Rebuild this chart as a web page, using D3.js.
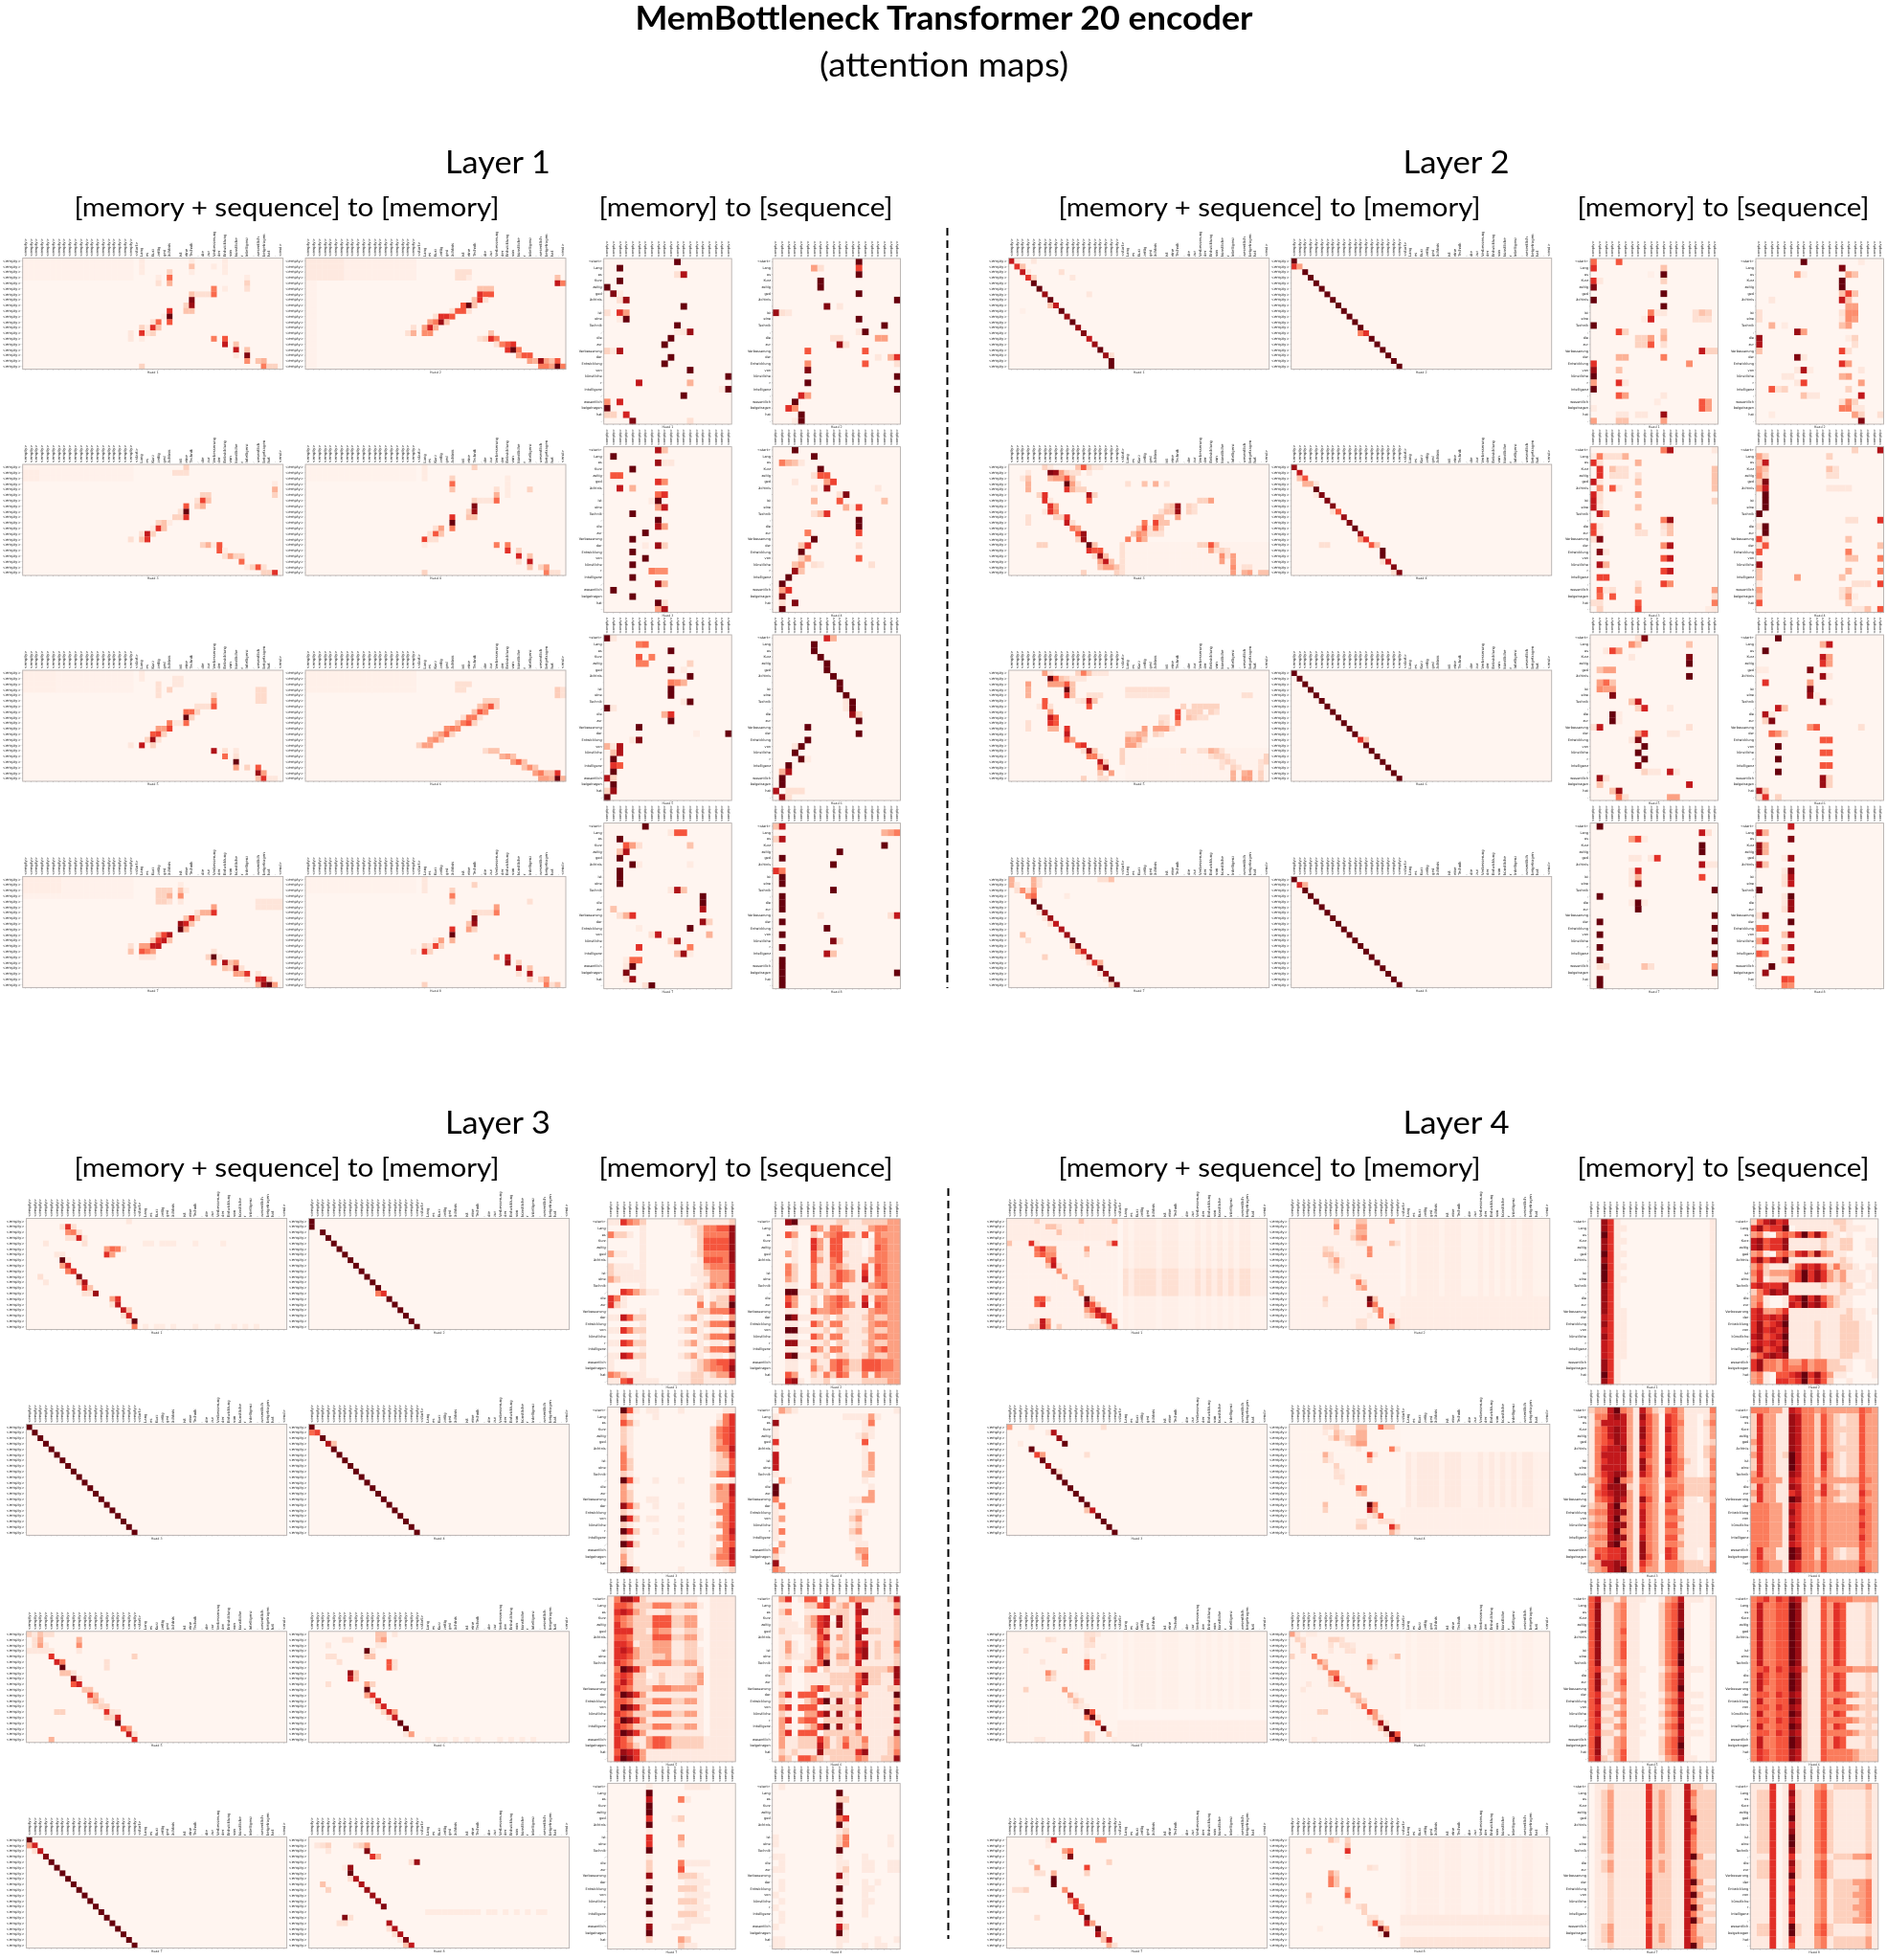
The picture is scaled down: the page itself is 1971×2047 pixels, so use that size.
<!DOCTYPE html>
<html><head><meta charset="utf-8"><script src="https://cdn.jsdelivr.net/npm/d3@7"></script>
<style>html,body{margin:0;background:#fff}svg{display:block}</style></head><body><svg id="c" width="1971" height="2047"></svg>
<script>
const seqTokens=["<start>","Lang","es","Kurz","zeitig","ged","ächtnis","","ist","eine","Technik",",","die","zur","Verbesserung","der","Entwicklung","von","künstliche","r","Intelligenz",",","wesentlich","beigetragen","hat","."];
const memTokens=d3.range(20).map(()=>"<empty>");
const wideXTokens=[...memTokens,...seqTokens,"<end>"];
// rows: "col:value" (0..9 scale); plain digit strings are full rows
const L1_R1_H1=["21:.5 30:.5 36:.5","21:.5 30:2 34:.5 36:.5","21:.5 26:1.5 30:.5 36:.5","24:.5 26:4.5 40:.5","24:1 26:2.5 40:1.5","34:4 36:.5 40:1","30:2 31:1 32:1 33:1 34:4.5","30:8.5","29:1.5 30:8","26:6 29:2 30:2","25:.5 26:9","23:1 24:4.5 26:5","21:1.5 22:.5 23:6 24:2","19:.7 21:6 22:1 23:1.5","19:.7 21:.5 34:4 36:5","36:7 38:2","38:7 40:2","40:8.5 38:.7","40:3.5 42:2 43:2.5","21:1.5 43:4 44:1.5 45:1.5"];
const L1_R1_H2=["","","27:1 28:1 29:1","27:1 28:1 45:2 29:.5","45:7 46:4","31:2 32:2 33:2","31:6 32:5 33:5","30:2 31:6 32:1","28:5 29:9 30:2","26:1 27:5 28:5 29:1","23:1 24:6 25:6 26:5","22:3 23:4 24:8 25:2","19:1 21:3 22:6.5 23:2.5","18:1 19:2.5 21:3.5 22:3.5 33:2","31:1 32:1.5 33:6 34:4","34:1 35:4 36:5 37:6","36:6 37:9 38:4","38:3 39:5 40:5","40:3 41:2.5 42:8 43:3 44:2 45:5","42:4 43:4 44:3 45:9 46:4"];
const L1_R2_H1=["29:1.5","27:1 28:1 29:1","","45:.5","45:2.5","32:1.5 33:1.5 45:1.5","31:1 32:5.5 33:2","29:5 31:1.5 32:2.5","28:1 29:9","27:1.5 28:1.5 29:6","24:1.5 25:2 26:.5","23:.5 24:6 25:2","21:1 22:7 23:1.5","19:1 21:2 22:6","32:1.5 33:2.5 34:.5 35:5","35:5 36:.5","36:1 37:3 38:1.5 39:1.5","39:4.5","40:.5 41:1.5 42:5 43:1","43:1.5 44:1.5 45:6"];
const L1_R2_H2=["21:.5 30:1.5","21:.5","21:.5 26:1.5 36:.5","26:4.5 36:.5","26:2 34:1 36:.5 40:1.5","34:2.5 36:.5","31:.8 32:.8 33:.8 34:4.5 30:1.5","30:8.5","29:1.5 30:8","26:6 29:2 30:2","26:9","23:1 24:3 26:4","22:1 23:5 24:2","21:5.5 22:1 23:1","21:.5 34:4 36:4","36:6 38:1.5","38:6.5 40:2","38:1 40:7","40:2 42:1.5 43:3","21:1.5 43:4 44:1 45:1"];
const L1_R3_H1=["21:.5","27:.7 28:.7 21:.5","24:1 27:.7 28:.7","24:1 26:1.5 42:1.2 43:1.2","24:1 34:1.5 42:1.2 43:1.2","34:3.5 42:1.2 43:1.2","31:1 32:1 33:1 34:5","29:4.5 30:4.5 31:1.5","29:9 30:1.5","27:.7 28:.7 29:4.5 26:4","24:3 25:3 26:5.5","23:5 24:5.5 25:1.5","22:1.5 23:8 24:1","19:.7 21:7 23:1.5","34:7.5 36:1 38:.7","36:4.5 38:1","38:9","38:3 40:1.5 42:5","42:8 43:3","42:2 43:6 44:.7 45:.7"];
const L1_R3_H2=["","","27:1 28:1 29:1","27:1 28:1 45:1.7 46:1","45:1.7 46:1","32:1.5 33:1.5 34:1.5","31:2 32:3 33:5 34:1.5","30:2 31:5 32:3.5","28:1 29:4 30:4 31:1","27:2 28:4 29:5 30:1.5","25:3.5 26:4 27:3.5","23:2 24:3 25:4.5 26:1.5","22:3 23:3.5 24:2","20:1.5 21:3 22:3","32:1.2 33:2 34:2","35:2.5 36:3 37:2","37:3 38:4.5 39:2","39:2 40:3.5 41:2","41:3 42:4 43:2 44:2 45:6","42:3 43:3 44:2.5 45:9 46:2.5"];
const L1_R4_H1=["","28:.5","24:1.5 25:1.5 26:1.5 28:2 29:.5","24:1.5 25:1.5 26:2.5 28:3.5","24:1.5 25:1.5 26:1 28:.7 42:.8 43:.8 44:.8 45:.8 46:.8","34:3 42:.8 43:.8 44:.8 45:.8 46:.8","31:1 32:2.5 33:2.5 34:6","29:2 30:6 31:2","28:8 29:6.5 30:2","28:9 29:2.5","24:2.5 25:5.5 26:7.5","23:2 24:6 25:7 26:2","19:1 21:3 22:3 23:7 24:7","19:2 21:5 22:4 23:3 34:1","21:.7 22:.7 23:.7 33:1.5 34:9 35:.7","34:3.5 36:7.5 37:2 38:3","36:2 37:1.5 38:8 39:1","38:3 39:3 40:6 42:1","40:1 42:6.5 43:7 44:1.5","42:2.5 43:8 44:9 45:3"];
const L1_R4_H2=["21:.7","21:.7 30:1.5","21:.7 26:1.5","26:4","26:1.5 40:1","34:3","31:1 32:1 33:1 34:4 30:1.5","30:8.5","29:2 30:8","26:6 29:3 30:1.5","26:9","23:.7 24:3 26:2.5","21:1.5 22:1 23:5.5 24:1.5","19:.7 21:6 22:1.5","34:3.5 36:7","36:8 38:1.5","38:7.5 40:2","38:1 40:7.5","40:1.5 42:1.5 43:3","21:1.5 43:4 44:1 45:2"];
const L2_R1_H1=["0:7 1:.5 4:.7","1:6 2:2","2:7 3:.7 9:1","3:6 4:1.5 11:.7","4:9","5:9","6:8 14:.7","7:9","7:2 8:7","9:9 2:.3","10:8","11:9","12:8","13:8.5","14:7","15:8","16:9","17:8 18:1","18:9","18:9"];
const L2_R1_H2=["0:9","0:6 1:3","2:9","3:9","4:9","5:9","6:9","7:9","8:9","9:9","10:9","11:9","12:9","12:4 13:6","14:9","15:9","16:9","17:9","18:9","19:9"];
const L2_R2_H1=["6:1.5 7:.7 12:2 13:5 14:1.5 15:.7 16:.7","3:.7 7:8.5 8:8 9:3 10:1.5 11:1 12:1 14:.7","2:.7 3:2 7:2.5 8:3 9:3 10:5 11:2","3:2.5 10:9 11:3 12:1 21:1 24:2 26:2.5 28:1","3:2.5 10:6 11:2.5 12:1.5 13:1.5","5:1.5 6:6 14:7.5 15:1.5","6:6 7:.7 14:5 34:1.5 35:1.5 36:3","7:6 8:3 28:1.5 29:2 30:8 32:1.5 33:1","6:.7 7:6 8:3.5 27:1 28:2 29:2 30:8 32:1.5 33:1","3:1 8:1.5 9:1.5 10:6 26:2 27:2 30:3","3:1 10:7 11:1 24:4 26:5.5 27:2 28:2","11:4 12:3 23:2 24:5 25:1 26:4 27:1.5","12:5 13:8 22:2 23:3.5 24:3 25:1 26:1 27:1","12:1.5 13:8 21:4 23:4 24:2.5","5:1.5 6:1.5 14:9 15:2 20:1 34:1.5 35:1.5 36:5 37:2","14:6 15:5 16:5 20:1 36:3 37:1 38:1.5 39:1","15:1 16:8 17:2 20:1 38:3.5 39:1 40:3","16:3 17:7 18:2 20:1 38:3 40:3","16:2 17:3 18:3 19:2 20:1 40:3.5 42:1 43:1","13:1.5 19:1.5 20:1 40:3 42:2.5 43:3 45:2 46:2"];
const L2_R2_H2=["0:8","1:7","1:2 2:5","2:2.5 3:2.5 4:.7","4:9","4:.5 5:8.5","6:8.5","7:8.5","7:1 8:5","9:8","10:8.5","11:9","12:8","12:3 13:6","5:1 6:1 14:5 15:2","16:9","16:9","16:1 17:7","18:8.5","18:1 19:8.5"];
const L2_R3_H1=["6:3 7:.7 12:1.5 13:4 14:2 15:.7 16:.7 17:.7","7:9 8:5 9:2 10:1.5 11:.7 12:.7 13:.7","3:3 7:3 8:3 9:3 10:5 11:2","3:2.5 10:9 11:2 21:1 22:1 23:1 24:1 25:1 26:1 27:1 28:1","3:2.5 10:6 11:2 14:1 15:1 16:1 21:.8 22:.8 23:.8 24:.8 25:.8 26:.8 27:.8 28:.8 42:1 43:1","6:5 12:.7 13:1 14:7 15:2","5:.7 6:5 7:1 14:5 31:1.5 33:1.5 34:1.5 35:1.5 36:1.5 37:1.5","7:3 32:1.5 33:1.5 34:1.5 36:1.5 37:1 30:5.5","7:7 8:5 27:1 28:1 30:5.5 32:2 33:1.5 34:1 35:1","3:1 7:6 8:5 27:1.5 28:1 30:3.5","3:1 7:2.5 8:2.5 10:6 24:3 26:3 27:3 28:3 29:1","10:7 21:1.5 22:1.5 23:2.5 24:2.5 26:1.5 27:1","10:5 11:3 21:3 22:2.5 23:3 24:1.5","12:5 13:6 21:3 22:3 23:1.5","13:1 14:8 15:2 20:1.5 31:1.5 34:1 35:1 36:2.5 37:2 38:1","14:4 15:4 16:1 20:1.5 36:1 37:1.5 38:1.5 39:1 46:1.5","16:7 17:1.5 20:1.5 38:1 39:1.5 40:1 45:1 46:1.5","16:4 17:8 38:1 40:1.5 41:1 45:1","16:2 18:3 40:2.5 42:2.5 43:3 45:1.5","13:1.5 16:1 17:1 40:2.5 42:3 43:3 45:1.5"];
const L2_R3_H2=["0:9","1:9","2:9","3:9","4:9","5:9","6:9","7:9","8:9","9:9","10:9","11:9","12:6 13:2","13:9","14:9","15:9","16:9","17:9","18:9","19:9"];
const L2_R4_H1=["0:2.5 4:2.5 5:1 16:1 17:1 18:2","0:2.5 1:.7 4:2.5 5:1","1:1 2:3.5 3:1 4:3.5","3:3.5 4:4.5 10:.5","4:9","5:9","5:.5 6:8","6:.7 7:8","7:1 8:7","9:7.5","2:2 10:8","3:1 11:9","11:2 12:8.5","12:3 13:6.5","6:1.5 13:.7 14:8","14:.7 15:6 16:2.5","16:9","16:.7 17:8","17:.5 18:9","18:1.5 19:8.5"];
const L2_R4_H2=["0:9","1:6.5 2:2.5","2:9","3:9","4:9","5:9","6:9","7:9","8:9","9:9","10:9","11:9","12:9","13:9","14:9","15:9","16:9","17:9","18:9","19:9"];
const L3_R1_H1=["18:.7","6:1 7:6 8:1","7:3.5 8:4 9:1","7:1 8:1 9:6.5 10:.7","3:.7 10:1 21:.5 22:.5 24:.5 25:.5 26:.5 30:.5 35:.5","14:3 15:4.5 16:4 17:1","5:.7 6:.7 14:6 15:3","6:9 7:.5","6:3 7:6.5","7:4 8:6","2:1 9:8.5","3:.7 9:2 10:7.5","10:6 11:2","10:1 11:1 12:8","15:3 16:6","15:1 16:7","17:7 18:2","17:1 18:6.5","18:1 19:9","19:4 21:.5 23:.5 24:.5 26:.5 30:.5 34:.5 37:.5 39:.5 41:.5"];
const L3_R1_H2=["0:9","0:9","2:9","3:9","4:9","5:9","6:9","7:9","8:9","9:9","10:9","11:9","12:9","12:4 13:6","14:9","15:9","16:9","17:9","18:9","19:9"];
const L3_R2_H1=["0:9","1:9","2:9","3:9","4:9","5:9","6:9","7:9","8:9","9:9","10:9","11:9","12:9","13:9","14:9","15:9","16:9","17:9","18:9","19:9"];
const L3_R2_H2=["0:9","0:4.5 1:5.5","2:9","3:7.5 4:2","4:9","5:9","6:9","7:9","8:9","9:9","10:9","11:9","12:9","13:9","14:9","15:9","16:9","17:9","18:9","19:9"];
const L3_R3_H1=["0:1.5 1:.7 2:2 3:1 4:1","1:1 2:2.5 9:2.5","1:1 2:3 3:.7 9:3.5","0:.7 1:.7 2:.7 3:.7 4:.7 9:.7","4:6 19:1.5","5:6.5 6:4 14:1","6:9 14:1","6:2 7:2 8:1","8:8.5 9:1","8:5 9:6.5","10:2 11:2","11:5.5 12:2.5","11:2 12:3 13:1","12:1 13:1.5 14:1.5","5:1.5 6:1.5 14:6 15:1 16:.7","14:1.5 15:1.5 16:6.5","16:9","17:5 18:3","18:7 19:1","4:2.5 19:6"];
const L3_R3_H2=["12:2 13:2 15:.7","6:1 7:1 12:2 13:3","3:.7 12:.7 13:.7","10:9 11:.7","3:1 4:1 10:2 11:2","5:1 14:5 15:1","14:5 15:1","7:8 8:2","7:7 8:2","3:1 10:3 11:1.5","10:9","10:3 11:6","11:1 12:6.5","12:2 13:6.5","13:1.5 14:6.5 15:3","14:1 15:7","16:9","17:9","17:.7 18:3","21:.5 23:.5 24:.5 26:.5 28:.5 30:.5 34:.5 36:.5 38:.5 40:.5"];
const L3_R4_H1=["0:9","0:3 1:6.5","1:1 2:7","3:8.5","4:9","5:9","6:9","7:9","8:9","9:9","10:9","11:9","12:9","13:9","14:9","15:9","16:9","17:9","18:9","19:9"];
const L3_R4_H2=["","1:.7 2:1 3:1.5 8:1 9:1.5 10:3","3:.7 10:8.5","11:6 12:2.5","18:1 19:8","6:.5 7:8","7:9","7:1 8:7.5","2:2 9:7.5","3:1.5 10:8","11:8","12:8","13:8.5","21:.5 22:.5 23:.5 24:.5 25:.5 26:.5 27:.5 28:.5 29:.5 30:.5 32:.5 33:.5 35:.5 37:.5 39:.5 41:.5 42:.5","6:8.5 7:1","5:1 6:1 14:7.5","14:1 15:7.5","15:1 16:7.5","16:.7 17:8.5","17:2 18:7"];
const L4_R1_H1=["5:1.5 13:2 19:2","7:2 8:2 9:1","9:2","","0:2 4:6 5:1 18:2 19:6","5:4.5 6:6 7:3 8:3 14:3","5:4 6:5 7:3.5 8:3.5 14:1.5","7:4 8:6.5","7:2 8:7 9:1","9:3.5","10:2.5","12:2","12:2 13:2.5","13:3","5:5 6:5 7:1.5 14:9 15:2","5:4.5 6:6 14:7.5 15:5 16:2","14:3 15:5 16:7 17:3.5","14:1.5 15:2.5 16:6 17:7 18:6","5:1 6:7 7:3 17:2 18:6 19:2.5","4:1.5 5:1.5 6:7 7:3.5 9:1.5 18:2 19:6"];
const L4_R1_H2=["8:2 12:2 13:2 18:3","8:3.5 12:3 13:3","8:1.5 11:1 12:2.5 13:2.5","11:1.5 12:3 13:3.5","12:1 13:1 18:2 19:1","6:1.5 7:1 14:3.5","6:2 7:2 8:1 14:3.5","7:1.5 8:3 9:.7","7:1 8:2 9:.7","8:1.5","11:1 12:1","12:4 13:1.5","12:2 13:3","","6:1.5 14:9 15:2","6:1 14:8 15:4","15:2 16:4","14:.7 16:4 18:1","12:1 13:1 18:6 19:1","12:1 13:1 18:3 19:1"];
const L4_R2_H1=["0:3 4:1 17:1","7:.7 8:7.5","9:8","2:.5 10:9","4:9","5:5.5 6:3 14:1","6:9","7:8","8:9 9:1","9:9","10:9","11:9","12:9","13:9","14:9","14:2 15:7","16:9","17:9","18:9","19:9"];
const L4_R2_H2=["6:1 7:1 8:1.5 12:2 13:2 16:4.5 17:2 18:2","6:.7 8:2 9:1 12:2.5 13:2.5","7:1 8:2.5 9:1 10:1.5 11:2 12:2.5 13:2.5","10:1 11:2 12:3 13:3","12:.7 18:4 19:1","6:2.5 7:.7 14:5 15:1","6:1.5 7:.7 14:2","8:1.5","8:1 9:.7","8:1 9:1","9:.7","12:5 13:3.5","12:2 13:2.5","","6:2 14:9 15:4","6:1.5 14:7 15:3","14:.7 15:1.5 16:5","12:1 13:1 16:1 17:1 18:1","12:1.5 13:1.5 18:6 19:2.5","18:2.5 19:1"];
const L4_R3_H1=["14:1 15:1 16:.7","7:1 8:.7 14:1 15:1.5","14:1 15:1","3:1 10:2 14:.5","14:.7 17:.7","6:.7 14:5 15:2","14:5 15:2","7:3.5 8:1.5","7:2 8:1","","3:1.5 10:3","11:2.5 12:.7","11:.7 12:2 13:1","12:1 13:.7 14:.5","14:9 15:5","14:4 15:9 16:1","15:.5 16:5","17:9","14:2 15:1 18:2","5:.7 6:.7 14:2 15:1 19:.5"];
const L4_R3_H2=["0:3 1:1 3:.5 4:.5","1:1.5 2:1 7:1.5 8:1.5 9:1","2:1.5 7:1 9:1 10:1 11:.7","2:1 7:.7 10:1 11:1","0:1.5 4:4 14:1 18:.7 19:2","5:3.5 6:2 14:4 15:1.5","5:1 6:3 14:2 15:.7","7:4 8:4","7:2 8:6 9:1","3:.7 7:1.5 8:2 9:2","2:.7 10:3.5","11:2 12:2","11:.7 12:2.5 13:1.5","12:1 13:4","5:1.5 6:1.5 14:5.5 15:3","14:1 15:3 16:1","15:1.5 16:7.5 17:1","16:2 17:9","17:1 18:9 19:5","4:.7 18:5.5 19:9"];
const L4_R4_H1=["7:.7 8:6.5 16:3.5 17:3.5","7:.5","10:3 11:4.5","10:1 11:8.5","4:1 18:1.5","5:3 14:5.5","5:1 6:1 8:2.5 14:1.5","8:9","8:9","1:1 2:1 3:1.5 10:3.5","11:7.5","11:3 12:6","12:6 13:3","13:6","5:1 14:9","14:7 15:3","16:9","16:7.5 17:2","17:2 18:7","18:2.5 19:1"];
const L4_R4_H2=["7:2 8:1 10:1.5","10:2","3:1.5 10:6","10:.7","","14:1 15:.7","7:3 8:1.5","7:4 8:2","7:4 8:2","10:3","3:1.5 10:4.5","3:.7 10:1.5","12:1 13:1.5","13:1.5","14:1 15:1","14:1.5 15:5 16:1.5","5:.5 16:8.5 17:3","16:.7 17:9","",""];
// faint washes: [firstRow,lastRow,firstCol,lastCol,value,"w" = stronger on word columns]
const wordCols=[21,23,24,25,26,28,29,30,34,36,38,40,42,43];
const F_L1_R1_H1=[[0,3,0,19,.2]];
const F_L1_R1_H2=[[0,3,0,19,.3],[0,3,0,6,.6],[4,19,0,1,.2]];
const F_L1_R2_H1=[[0,2,0,19,.2],[1,2,0,2,.4]];
const F_L1_R2_H2=[[0,2,0,19,.15]];
const F_L1_R3_H1=[[0,3,0,19,.2],[0,3,0,5,.3]];
const F_L1_R3_H2=[[0,3,0,19,.25]];
const F_L1_R4_H1=[[0,3,0,19,.2],[0,2,0,6,.4]];
const F_L1_R4_H2=[[0,2,0,19,.15]];
const F_L2_R2=[[14,19,21,46,.15]];
const F_L4_R1_H1=[[0,3,0,19,.4],[4,19,0,19,.2],[0,3,21,46,.4,"w"],[4,8,21,46,.5,"w"],[9,13,21,46,1,"w"],[14,19,21,46,.3,"w"]];
const F_L4_R1_H2=[[0,19,0,19,.2],[0,13,21,46,.4,"w"],[14,19,20,46,.4]];
const F_L4_R2_H2=[[0,19,0,19,.1],[5,14,21,46,.6,"w"],[15,19,20,46,.3]];
const F_L4_R3_H1=[[0,19,0,19,.1],[0,13,21,46,.25,"w"],[16,19,20,46,.35]];
const F_L4_R3_H2=[[0,19,0,19,.15],[0,13,21,46,.25,"w"]];
const F_L4_R4_H2=[[0,13,20,46,.35,"w"],[14,15,20,46,.6],[16,17,20,46,.25],[18,19,20,46,.8]];
const T1_R1_H1=["11:9","2:9","11:1 12:7.5","2:9","0:9","1:8.5 2:.5","2:1 3:8","12:9","0:1 2:6 3:3","2:.5 3:9","11:9","11:.5 12:.7 13:8","10:9","9:9","0:1.5 1:.7 2:7.5","10:9","9:9","13:9","19:9","5:7 13:2.5","18:.5 19:9","12:9","0:3.5 2:6.5","0:9","0:1.5 1:1.5 3:6.5","4:8.5 13:1"];
const T1_R1_H2=["13:9","6:3 7:1 13:5.5","13:9","7:9","7:9","13:9","19:9","8:8.5 10:.7","0:8 1:1 2:.7","13:9","17:9","13:.7 14:9","9:1 10:1 16:3 17:3","10:8 11:1","5:5 14:5","16:.7 18:2.5 19:6","5:3.5 14:5 19:1","5:8.5","19:9","5:9","19:9","4:6.5 5:3","3:9","2:6 3:3.5","4:9","3:.5 4:9"];
const T1_R2_H1=["8:7.5 9:2","1:9","8:8 9:.7 10:.7","4:9","1:5 2:5","8:6 9:3.5","2:7 4:2.5","8:4.5 9:6","7:.5 8:9","8:3 9:7","4:9","8:9","8:7.5 9:3","6:9","4:9","6:.5 8:8 9:1.5","4:9","6:9","4:9","7:4 8:3.5 9:3.5","4:9","8:8 9:2.5","1:9","4:9","8:9 9:1","8:3 9:7.5"];
const T1_R2_H2=["3:9","6:9","1:4 2:2.5 3:2 4:.7","7:9","6:1 7:5 8:5","3:.7 8:3 9:5.5","6:1 8:8 16:.7","10:1 11:8.5","6:2.5 10:5 17:2","11:2.5 12:.5 13:5.5","6:1 7:2 8:6","13:9","13:9","5:4 13:5.5","6:9","4:2 5:6 13:1","4:9","4:1.5 5:3 13:5","3:2 4:3 6:1 7:.7 15:1","3:8 4:2","2:9","1:9","1:3 2:6","1:8.5","1:1 3:8.5","1:9"];
const T1_R3_H1=["0:9 1:.7","5:4 6:4.5","10:9","5:5 7:4","5:4 6:4 13:1.5","10:9 12:.5","13:9","10:4 11:3.5 12:2.5","10:9","10:9","12:.7 13:9","0:9 1:.7","9:2.5 10:6","10:9","5:9","14:.4 19:9","4:.7 5:8.5","0:2.5 1:.7 2:7.5","1:2 2:7.5","1:9","1:6 2:5","1:9","0:7.5 1:1.5","1:9","0:1.5 1:8","0:9"];
const T1_R3_H2=["8:6.5 9:2.5","6:9","6:9","7:9","8:9","8:9","9:9","10:9","10:9","11:9","11:.7 12:9","11:.7 12:9","12:8 13:1.5","13:9","5:9","13:9","5:9","3:.7 4:9","3:9","4:9 5:.5","2:9","1:2.5 2:7.5","1:9","1:9","0:7.5 2:1 3:1 4:1","1:8 2:1"];
const T1_R4_H1=["6:9","10:.7 11:5 12:5","2:9","3:5 4:3 5:1 13:2","2:2 3:7.5","2:9","4:9 5:.5 13:.5","2:9","2:9","2:9","10:.7 11:7.5 12:2","15:9","15:9","1:2 15:7.5","2:1 3:2.5 4:6","15:8 16:1.5","5:.5 13:9","7:1 8:7 16:2.5","10:1.5 11:8","5:6 13:4","11:2 12:8 13:.5","3:.5 4:4.5 5:4.5","3:.7 4:9","3:8.5","3:.7 4:8","6:1 7:9"];
const T1_R4_H2=["0:2 1:7","17:2.5 18:3 19:4","0:1.5 1:7.5","17:9","10:9","1:9","9:9","0:6 1:4","1:9","1:9","9:9","1:9","1:9","1:9","7:.7 18:1 19:7","1:9","8:9","1:9","9:8.5 10:1","1:9","8:7.5 9:2","1:9","1:9","1:9 19:9","1:9","1:9"];
const T2_R1_H1=["0:4.5 4:5","0:6 11:2","9:.3 11:9","0:6 1:.7 11:1.5","0:8.5","11:9","0:9","11:9","9:4 10:.7 11:.7 16:1 17:2 18:1.5","8:.5 9:6.5 16:1 17:1 18:1","0:9","4:5.5 5:1.5 11:2","7:1.5 8:1.5 9:3 11:2.5","7:1.5 8:1.5 9:5 11:1","17:7 18:1.5 19:1.5","4:2.5 5:2.5 11:4","0:6 15:3.5","0:8 4:2","0:9","0:3 4:6 5:.7","0:9","4:5 5:3 11:.7","17:5 18:3 10:.5","0:.5 17:5 18:3","4:.7 5:.7 7:.7 8:.7 11:8","0:3 4:2 5:2 11:3"];
const T2_R1_H2=["7:9 16:.5","13:8.5","6:3 7:.5 14:3 15:2","13:9","13:9","13:2 14:5.5 15:2","2:.7 13:7 14:2","14:3 15:3","0:1 13:1 14:3.5 15:3.5","0:1 13:.7 14:3.5 15:3","2:2.5 4:.5 13:2 14:3","6:8 7:3","0:8 14:.5 15:1.5","0:7.5 15:1","0:2 13:5.5 14:1","6:8.5 7:.7","13:6 14:3","6:.7 7:7.5 8:.5 16:.7","4:.7 5:.7 13:2.5 14:3","6:.7 7:5.5 16:3","2:5 3:1 4:1.5 14:1.5","7:2 8:.7 9:.7 16:7","13:1 14:3.5 15:1.5","13:4 14:4 15:.7 16:.7","2:.5 15:3 16:1.5 19:1","16:8.5"];
const T2_R2_H1=["11:4 12:7.5 19:.7","0:.5 1:4 2:1 3:1 4:1 5:2.5","0:6 1:1 7:2.5","1:6 3:2 4:1 5:1 19:2","1:6 3:1 4:1 5:1 7:1 19:2","0:7 1:.7 7:2 19:2","1:3.5 3:5 4:.7 19:2","0:6.5 1:1 7:2.5","0:7 1:1 19:1.5","0:7 1:.7 7:2","1:7 2:3.5","11:4 12:8","0:5.5 1:.7 7:2 11:1 12:2","0:5.5 1:.5 7:1 8:1 11:.7 12:2","0:1 1:8.5","11:3.5 12:7.5","1:8.5 2:.7","11:5 12:7","1:7.5 2:2.5","11:5.5 12:7","1:5.5 2:5.5","7:1 11:5.5 12:3.5","1:5 2:.7 3:1 7:2 19:3","1:4.5 3:5 19:1","0:1 1:1 7:5 19:4","1:1.5 7:5.5 18:.5 19:.7"];
const T2_R2_H2=["15:1.5 19:7.5","0:3 1:1.5 11:1.5","0:2 1:7","0:3 1:2 11:2 12:1","0:3.5 1:1.5 11:1 12:1","0:2 1:8.5","0:3.5 1:7 11:.7 12:.7 13:.7 14:.7","1:9","1:9","1:9","0:9","14:1 15:1 19:6","0:1 1:9","1:9","0:5.5 1:1 14:2","0:1 1:5 19:2","0:5 14:4","14:2 15:2 19:4","0:8","0:2 14:2.5 19:4","0:2 6:3 13:2","0:.5 15:1 16:1 17:1 19:5.5","0:3 13:1 14:2","0:2 13:1 14:3 15:.5","0:5 14:2","15:.7 16:.7 17:2 19:5"];
const T2_R3_H1=["7:1 8:8.5","6:3.5 7:2 15:2","2:.7 3:5.5 4:3","6:.7 15:8.5","15:9","1:2 2:3 3:3","15:9","1:3 2:4.5 3:2","1:3.5 2:3 3:3","3:8.5","6:2 7:7","7:1.5 8:6.5 12:.7","3:9 4:.5","3:9 4:.5","0:1 1:7 15:1","7:3 8:6 12:.7 13:.7","6:.7 7:8.5","7:.5 8:9","7:9","8:9","7:8.5","8:1.5 9:.7 10:.7 12:7 13:.7","1:8 2:1","1:2 15:7","3:2 4:8","4:4 5:1 12:3 13:3"];
const T2_R3_H2=["3:9","10:2.5 11:7","1:9","10:7 11:3","10:6 11:3","0:.5 1:.5 8:8.5","10:8 11:.7","1:6 8:3","8:8.5","8:8 9:.5","10:8 11:.7","3:7 4:2","1:7.5 2:.7","1:1.5 2:8.5","8:3.5 9:5 16:1","2:4.5 3:3.5 4:1.5","10:5 11:5","3:9","10:5 11:5","3:9","10:5 11:5","3:9","10:8 11:1.5","10:8 11:1.5","0:7.5 1:2","0:1 1:6 3:1.5"];
const T2_R4_H1=["1:9","17:7 18:1","6:3 7:5.5 8:.5","17:9","17:9","6:.7 7:.7 9:.7 10:6","17:7.5 18:.7 19:.7","6:.7 7:6.5","6:.7 7:2.5 17:5.5","6:.7 7:8","19:9","1:9","6:.5 7:9 8:.5","7:9","19:9","1:9","19:9","1:9","19:9","1:9","19:9","1:9","1:1 2:1 8:2 9:1 19:3.5","19:9","1:9","1:9"];
const T2_R4_H2=["5:7","0:7 1:2.5","5:8.5","0:8 1:2.5","0:8 1:2.5","4:.5 5:8","0:7.5 1:2","4:.7 5:8.5","4:1 5:7.5","4:1 5:7","0:9","4:.7 5:9","4:.7 5:8","4:1 5:8","0:1 1:8.5","5:9","0:4.5 1:4.5","4:2 5:7.5","0:3 1:7","4:2 5:7.5","0:5 1:4","4:2 5:7","2:9","1:8","4:5.5 5:5","4:4 5:3.5"];
const T3_R1_H1=["11643200000122111112","00000100000001244558","42210100000001244448","00000100000000255558","00000100000000255558","31100100000001244448","00000100000000155548","21110100000001134447","21111100000001123337","32111100000000113337","00000100000001124347","00653211000122101112","64100000000000201227","62100000000000403229","00000100000000224447","11752200000123101103","00000100000000124448","11642200000123101103","00000100000000124448","11652200000123101103","00000100000000124448","11762200000123101102","10000100000001234557","10000100000001234458","43211100000112212337","11561111000112211112"];
const T3_R1_H2=["00891111112211222233","00010053144111134433","00530020345531504333","00010063155111014433","00010063155111015433","00310052155211014433","00010053145111134433","00420041143211515433","00420041135431615433","00320041135431714433","00110053144111134533","00991111212211222233","00530020345411614433","00630020345431705433","00110053344111134433","00981111202211232233","00110053144111134433","00991111202211232233","00110053144111134433","00881111202211232233","00110053144111134533","00891111202211232233","00110031145422555443","00110042145322555443","00530021425411414333","00781011201111222233"];
const T3_R2_H1=["00951011000100000011","00310001000000000146","00531000000000000246","00210000000000002456","00210000000000002456","00210000000000002356","00310000000000002447","00410000000000001236","00420000000000001225","00420000000000001225","00210000000000002446","00951001000100000001","00310000000000002437","00320000000000002337","00320011000000002336","00852001000100000146","00210000000000001446","00962011000100000146","00210000000000001346","00962001000100000047","00210000000000001346","00972000000100001045","00210000000000001347","00310000000000002447","00310000000000001336","00982000000100000012"];
const T3_R2_H2=["03210000000000000001","10000000000111131000","80000000000000140000","10000000000000110000","10000000000001210000","60000000000000500000","10000000000000100000","70000000000000130000","70000000000000130000","70000000000000130000","10000000000000220000","04100000000000100000","90000000000000010000","90000000000000030000","40000000000011330000","14000000000000000000","10000000000012100000","13000000000023000000","10000000000012000000","14000000000023000000","10000000000011000000","03000000000001100000","41000000000003300000","20000000000002400000","80000000000000300000","43000000000000000000"];
const T3_R3_H1=["14886211111111001111","15542224442233101111","16763211121111001111","15432225552233001111","16432225552233001111","16662214331122101111","15542225552233101111","16651223331122001111","16763223331122101111","16653222231122101111","16542224442233101111","14986311111111201111","15652201211122301111","15752211211122301111","16542224443333101111","15986311111111101111","15542224442233101111","15986311111111101111","16542224442233101111","15986311111111101111","16542224442233101111","16986311111111101111","16531135542222211111","16542135542222211111","15876311111111111111","16986311111111111111"];
const T3_R3_H2=["03601550631143331127","01100225612317111113","02400111122217811117","01100236708216111112","01110236718217111112","02111226311217722112","01100125713218111112","01310115311216712114","01310126412217812113","01211126313316812112","01100225912217111112","03501450211122222238","02100111122225822118","02100111122225722117","01100146411216111122","03605550122223311119","02100236918217111113","04605550122223111118","02100336818217111112","03604550222223111117","03100236918217111112","03605550222223111118","03112226312422411123","03112227312522311123","02121118222226811124","03205532122224311228"];
const T3_R4_H1=["00000010000011110000","00000090000000000000","00000070000410000000","00000090000000000000","00000090000000000000","00000060001200000000","00000090000000000000","00000010000000000000","00000060000300000000","00000060000200000000","00000090000000000000","00000010000000000000","00000020000411110000","00000020000500000000","00000080000222100000","00000010000011110000","00000090000222100000","00000010000011110000","00000090000222100000","00000010000011110000","00000090000222100000","00000010000011110000","00000080001110000000","00000090000000000000","00000020000320000000","00000000000211000000"];
const T3_R4_H2=["01000000000000000000","00000000009000000000","00000000002200000000","00000000009000000000","00000000009000000000","00000000004600000000","00000000009100000000","00000000001200000000","10000000002400000010","10000000002400000010","00000000009000000000","11000000001000100000","01000000001100110011","11000000001200110011","00000000008100000000","01000000001100101000","01000000009000110000","10000000001000100000","01000000009000110000","10000000001000100000","01000000009000100000","01000000001000000000","10000000007200000000","00000000009100000000","11000000001100001001","11000000001000101100"];
const T4_R1_H1=["00861000000000000001","00861100000000000001","00961000000000000001","00861100000000000001","00861000000000000001","00961100000000000001","00861000000000000001","00961100000000000001","00961000000000000001","00961100000000000001","00861000000000000001","00861000000000000001","00861000000000000001","00861000000000000001","00861100000000000001","00761100000000000001","00861100000000000001","00761100000000000001","00861100000000000001","00761100000000000001","00761100000000000001","00761100000000000001","00861000000000000001","00861000000000000001","00961000000000000001","00861000000000000001"];
const T4_R1_H2=["25786711111112210000","68566901111111211100","34104546958521010000","78566811111211220011","78566811111211220011","34104536748431100001","68576911111111210000","35211125767524221011","46233346968632311101","36122246968632311101","67666811111211220011","24687811111111211100","34100167968532110000","35100176978632110000","67334611111111121101","67676811111111221100","68567911112111222110","68676811112111222110","78567911112111222110","67676811112111222110","78567911112111222110","35787811112111221110","68443533534422110011","68443544534422210011","34105567968531100001","34106656957520010000"];
const T4_R2_H1=["23379431742145311114","14478731853065311013","13777731753065411024","14578731853075311013","14578731853065311013","14568731753065311012","14677831853075311023","14777731653065311023","14677731843075421014","14777731853065411014","14678841753075311013","33579431443144322224","14688821543044422223","15678831543055422224","14568731853064311023","23379431643144311114","34478831743155211114","23379431743144311114","34478831743155211114","23379431643144311114","34478831743155211114","33389431843144311114","25566731843165211013","26566731853065211013","33778731643144322214","23478931533144322224"];
const T4_R2_H2=["44433176443433333543","26331187442532122533","26331187442532122533","26331187442532222533","26331187442532122533","36331187442532122533","26331187442532222533","36331297442642122533","26331197442632122533","26331197442632122533","36331187442532122533","44433176443433333543","26331187442632122533","36331167443633222643","26331198442432122533","44433176443433333543","44433186443433333643","44433176443433333543","44433186443433333643","44433176443433333543","44433186443433333643","44433176443433333543","46331198442532122533","46331198442532122533","45433176443533333543","45433176443533333643"];
const T4_R3_H1=["57221311100134711101","58113411000245810001","58113411000245810001","58113411000245810001","58113411000245810001","58113511000245910001","58113411000245910001","58113511000245810001","58113511000245810001","58113511000245910001","58113411000245910001","56221311100134711101","58113411000245810001","58213511000245810001","58113411000245910001","56221311100134711101","57113411000245810001","56221311100134711101","57113411000245810001","56221311100134711101","57113411000245810001","56221311100134711101","58113411000245810001","58113411000245910001","58123511000245810001","57213511000134711001"];
const T4_R3_H2=["45646587311544443333","47445598211536511121","47445598211536511121","47445598211536511121","47445598211536511121","47445598211536511121","47445598211536511121","47445598211536511121","47445598211536511121","47445598211536511121","47445598211536511121","45646587311544443333","47545598211536511121","47545598211536511121","47445598211536511121","45546587211544443222","47445598211536511121","45546587211544443222","47445598211536511121","45546587211544443222","47445598211536511121","45546587211544443222","47445598211536511121","47445598211536511121","46545587211544443222","46545587211544443222"];
const T4_R4_H1=["01121111162221172211","01231111162321174222","01231111162321173222","01231111162321173222","01231111162321174222","01231111162321178222","01231111162321174222","01231111162321175222","01231111162321174222","01231111162321174222","01231111162321174222","01121111162221179311","01231111152321173222","01231111152321174222","01121111162221174222","01121111162221179311","01121111162221174222","01121111162221179311","01121111162221174222","01121111152221179311","01121111162221174222","01121111152221179311","01231111162321174222","01231111162321174222","01231111162321174322","01121111162221179311"];
const T4_R4_H2=["11160161113412222231","12260182114521111121","12260172114521111121","12260182114521111121","12260182114521111121","12260192114521111121","12260172114521111121","12260182114521111121","12260192114521111121","12260192114521111121","12260182114521111121","11160161113412223341","12260182114521111121","12260172114521111121","12260192114521111121","11160161113412223341","11160171113412222341","11160161113412223341","11160171113412222341","11160161113412223341","11160171113412222341","11160161113412223341","12260192114521111121","12260192114521111121","11160161113412222231","11160151113412222231"];

const panelRows=[
 [[L1_R1_H1,L1_R1_H2,T1_R1_H1,T1_R1_H2],[L1_R2_H1,L1_R2_H2,T1_R2_H1,T1_R2_H2],[L1_R3_H1,L1_R3_H2,T1_R3_H1,T1_R3_H2],[L1_R4_H1,L1_R4_H2,T1_R4_H1,T1_R4_H2]],
 [[L2_R1_H1,L2_R1_H2,T2_R1_H1,T2_R1_H2],[L2_R2_H1,L2_R2_H2,T2_R2_H1,T2_R2_H2],[L2_R3_H1,L2_R3_H2,T2_R3_H1,T2_R3_H2],[L2_R4_H1,L2_R4_H2,T2_R4_H1,T2_R4_H2]],
 [[L3_R1_H1,L3_R1_H2,T3_R1_H1,T3_R1_H2],[L3_R2_H1,L3_R2_H2,T3_R2_H1,T3_R2_H2],[L3_R3_H1,L3_R3_H2,T3_R3_H1,T3_R3_H2],[L3_R4_H1,L3_R4_H2,T3_R4_H1,T3_R4_H2]],
 [[L4_R1_H1,L4_R1_H2,T4_R1_H1,T4_R1_H2],[L4_R2_H1,L4_R2_H2,T4_R2_H1,T4_R2_H2],[L4_R3_H1,L4_R3_H2,T4_R3_H1,T4_R3_H2],[L4_R4_H1,L4_R4_H2,T4_R4_H1,T4_R4_H2]]];
const faintMap=new Map([[L1_R1_H1,F_L1_R1_H1],[L1_R1_H2,F_L1_R1_H2],[L1_R2_H1,F_L1_R2_H1],[L1_R2_H2,F_L1_R2_H2],[L1_R3_H1,F_L1_R3_H1],[L1_R3_H2,F_L1_R3_H2],[L1_R4_H1,F_L1_R4_H1],[L1_R4_H2,F_L1_R4_H2],[L2_R2_H1,F_L2_R2],[L2_R3_H1,F_L2_R2],[L4_R1_H1,F_L4_R1_H1],[L4_R1_H2,F_L4_R1_H2],[L4_R2_H2,F_L4_R2_H2],[L4_R3_H1,F_L4_R3_H1],[L4_R3_H2,F_L4_R3_H2],[L4_R4_H2,F_L4_R4_H2]]);
// digit strings: the two lowest steps read paler than their number
const digitValue=[0,.6,1.6,3,4,5,6,7,8,9];

// page layout
const WW=272,WH=116,TW=133.5,TH=173;
const layout=[
 {wx:[23.7,319],tx:[630.7,807],wy:[269.6,485,700,915.4],ty:[270,466.6,663,859.6]},
 {wx:[1053.7,1348.7],tx:[1661,1834],wy:[269.6,485,700,915.4],ty:[270,466.6,663,859.6]},
 {wx:[27.6,322.6],tx:[634.7,806.7],wy:[1272.5,1487.4,1703.8,1918.6],ty:[1272.9,1469.6,1666.9,1862.6]},
 {wx:[1051.4,1346.8],tx:[1659,1828.3],wy:[1272.5,1487.4,1703.8,1918.6],ty:[1272.9,1469.6,1666.9,1862.6]}];

const svg=d3.select("#c");
const color=d3.scaleSequential(d3.interpolateReds).domain([0,9]);
const parse=(rows,faint,nc)=>{
  const m=rows.map(()=>new Array(nc).fill(0));
  (faint||[]).forEach(([a,b,c,d,v,w])=>{for(let r=a;r<=b;r++)for(let k=c;k<=d;k++)m[r][k]=(w&&!wordCols.includes(k))?v*.45:v;});
  rows.forEach((s,r)=>{
    if(!s)return;
    if(s.includes(":"))s.split(" ").forEach(p=>{const[c,v]=p.split(":");m[r][+c]=+v;});
    else [...s].slice(0,nc).forEach((ch,k)=>{m[r][k]=digitValue[+ch];});
  });
  const out=[];m.forEach((row,r)=>row.forEach((v,c)=>{if(v>0)out.push({r,c,v});}));
  return out;
};
const maps=svg.append("g").style("filter","blur(0.6px)");
function panel(x0,y0,w,h,rows,faint,xLabels,yLabels,head,fs){
  const x=d3.scaleBand().domain(d3.range(xLabels.length)).range([0,w]);
  const y=d3.scaleBand().domain(d3.range(yLabels.length)).range([0,h]);
  const g=maps.append("g").attr("transform",`translate(${x0},${y0})`);
  g.append("rect").attr("width",w).attr("height",h).attr("fill",color(0));
  g.selectAll("rect.cell").data(parse(rows,faint,xLabels.length)).join("rect").attr("class","cell")
    .attr("x",d=>x(d.c)).attr("y",d=>y(d.r)).attr("width",x.bandwidth()+.2).attr("height",y.bandwidth()+.2)
    .attr("fill",d=>color(d.v));
  const top=g.append("g").call(d3.axisTop(x).tickSize(0).tickPadding(1).tickFormat(i=>xLabels[i]));
  top.selectAll("text").attr("transform","rotate(-90)").attr("x",1.5).attr("y",0).attr("dy",".32em").attr("text-anchor","start");
  const left=g.append("g").call(d3.axisLeft(y).tickSize(1).tickPadding(1).tickFormat(i=>yLabels[i]));
  const bot=g.append("g").attr("transform",`translate(0,${h})`).call(d3.axisBottom(x).tickSize(1).tickFormat(""));
  [top,left,bot].forEach(a=>{a.select(".domain").remove();a.selectAll("line").attr("stroke","#666").attr("stroke-width",.35);
    a.selectAll("text").attr("font-size",fs).attr("font-family","DejaVu Sans").attr("fill","#222");});
  g.append("rect").attr("width",w).attr("height",h).attr("fill","none").attr("stroke","#b5b0ae").attr("stroke-width",.9);
  g.append("text").attr("x",w/2).attr("y",h+4.2).attr("text-anchor","middle").attr("font-size",3.3).attr("font-family","DejaVu Sans").attr("fill","#333").text("Head "+head);
}
panelRows.forEach((rows,l)=>rows.forEach((set,ri)=>{
  const L=layout[l];
  panel(L.wx[0],L.wy[ri],WW,WH,set[0],faintMap.get(set[0]),wideXTokens,memTokens,ri*2+1,3.9);
  panel(L.wx[1],L.wy[ri],WW,WH,set[1],faintMap.get(set[1]),wideXTokens,memTokens,ri*2+2,3.9);
  panel(L.tx[0],L.ty[ri],TW,TH,set[2],null,memTokens,seqTokens,ri*2+1,3.5);
  panel(L.tx[1],L.ty[ri],TW,TH,set[3],null,memTokens,seqTokens,ri*2+2,3.5);
}));

const titles=[
 ["MemBottleneck Transformer 20 encoder",986,30.5,34,645,700],
 ["(attention maps)",986,80,34,260,400],
 ["Layer 1",520,180.5,33,110,400],["Layer 2",1521,180.5,33,111,400],
 ["Layer 3",520,1183.5,33,110,400],["Layer 4",1521,1183.5,33,111,400],
 ["[memory + sequence] to [memory]",299.5,225.5,27,444,400],["[memory] to [sequence]",779,225.5,27,307,400],
 ["[memory + sequence] to [memory]",1326,225.5,27,441,400],["[memory] to [sequence]",1800,225.5,27,305,400],
 ["[memory + sequence] to [memory]",299.5,1228.5,27,444,400],["[memory] to [sequence]",779,1228.5,27,307,400],
 ["[memory + sequence] to [memory]",1326,1228.5,27,441,400],["[memory] to [sequence]",1800,1228.5,27,305,400]];
svg.append("g").selectAll("text").data(titles).join("text")
  .attr("x",d=>d[1]).attr("y",d=>d[2]).attr("text-anchor","middle").attr("font-family","Lato, 'Noto Sans', sans-serif")
  .attr("font-size",d=>d[3]).attr("font-weight",d=>d[5]).attr("fill","#000")
  .attr("textLength",d=>d[4]).attr("lengthAdjust","spacingAndGlyphs").text(d=>d[0]);
[[989.5,238,1032],[990.5,1241,2025]].forEach(([x,a,b])=>svg.append("line").attr("x1",x).attr("x2",x).attr("y1",a).attr("y2",b)
  .attr("stroke","#000").attr("stroke-width",2).attr("stroke-dasharray","8,5"));
</script></body></html>
